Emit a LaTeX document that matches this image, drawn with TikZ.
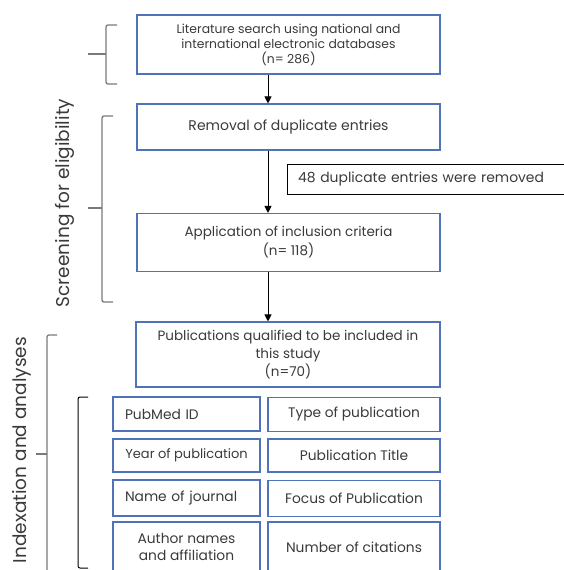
\documentclass[tikz,border=0pt]{standalone}
\usepackage{fontspec}
\setmainfont{Poppins}
\usetikzlibrary{arrows.meta}
\definecolor{boxblue}{HTML}{4F72B8}
\definecolor{txt}{HTML}{3A3A3A}
\definecolor{brace}{HTML}{7A7A7A}
\begin{document}
\begin{tikzpicture}[x=1pt,y=-1pt,
  box/.style={draw=boxblue,line width=1.1pt,inner sep=0pt,align=center,text=txt,font=\fontsize{13.5}{15}\selectfont},
  cell/.style={box,font=\fontsize{13.8}{17}\selectfont},
  lcell/.style={cell,align=left,text width=123pt,inner xsep=12pt},
  arr/.style={-{Triangle[length=7pt,width=7pt]},line width=1pt,black},
  brc/.style={draw=brace,line width=1.3pt,rounded corners=2pt},
  blbl/.style={rotate=90,text=txt,font=\fontsize{18.5}{20}\selectfont}]
\useasboundingbox (0,0) rectangle (563,570);
\coordinate (ax) at (268,0);
% main boxes
\node[box,minimum width=303pt,minimum height=59pt,font=\fontsize{12.4}{15}\selectfont] (b1) at (288.5,44.5) {Literature search using national and\\international electronic databases\\(n= 286)};
\node[box,minimum width=303pt,minimum height=46pt,font=\fontsize{14}{15}\selectfont] (b2) at (288.5,127) {Removal of duplicate entries};
\node[box,minimum width=303pt,minimum height=58pt,font=\fontsize{13.5}{19}\selectfont] (b3) at (288.5,242.5) {Application of inclusion criteria\\(n= 118)};
\node[box,minimum width=304pt,minimum height=65pt,font=\fontsize{13.5}{18}\selectfont] (b4) at (288,354.5) {Publications qualified to be included in\\this study\\(n=70)};
% side note (right edge runs off the picture)
\node[anchor=west,minimum width=300pt,minimum height=29pt,inner xsep=11pt,text=txt,align=left,text width=278pt,font=\fontsize{13.9}{15}\selectfont] (side) at (287,179.5) {48 duplicate entries were removed};
\draw[line width=1pt] (side.north east) -- (side.north west) -- (side.south west) -- (side.south east);
% arrows
\draw[arr] (b1.south -| ax) -- (b2.north -| ax);
\draw[arr] (b2.south -| ax) -- (b3.north -| ax);
\draw[arr] (b3.south -| ax) -- (b4.north -| ax);
% grid cells
\node[lcell,minimum width=147pt,minimum height=34pt] (c11) at (186.5,414) {PubMed ID};
\node[cell,minimum width=172pt,minimum height=34pt] (c12) at (354,414.5) {Type of publication};
\node[cell,minimum width=147pt,minimum height=33pt,font=\fontsize{13}{17}\selectfont] (c21) at (186.5,455.5) {Year of publication};
\node[cell,minimum width=172pt,minimum height=33pt] (c22) at (354,455.5) {Publication Title};
\node[lcell,minimum width=147pt,minimum height=36pt] (c31) at (186.5,498) {Name of journal};
\node[cell,minimum width=172pt,minimum height=36pt] (c32) at (354,498.5) {Focus of Publication};
\node[cell,minimum width=147pt,minimum height=50pt] (c41) at (186.5,547) {Author names\\and affiliation};
\node[cell,minimum width=172pt,minimum height=50pt] (c42) at (354,547) {Number of citations};
% braces
\draw[brc] (117,25) -- (106,25) -- (106,84) -- (117,84);
\draw[brc,rounded corners=0pt] (106,54) -- (88,54);
\draw[brc] (113,116) -- (102,116) -- (102,302) -- (113,302);
\draw[brc,rounded corners=0pt] (102,208) -- (88,208);
\draw[brc] (57,335) -- (47,335) -- (47,580);
\draw[brc,rounded corners=0pt] (47,454) -- (36,454);
\draw[line width=1pt,rounded corners=2pt] (88,397) -- (78,397) -- (78,568) -- (88,568);
% labels
\node[blbl] (l1) at (65,203) {Screening for eligibility};
\node[blbl] (l2) at (22,450) {Indexation and analyses};
\end{tikzpicture}
\end{document}
